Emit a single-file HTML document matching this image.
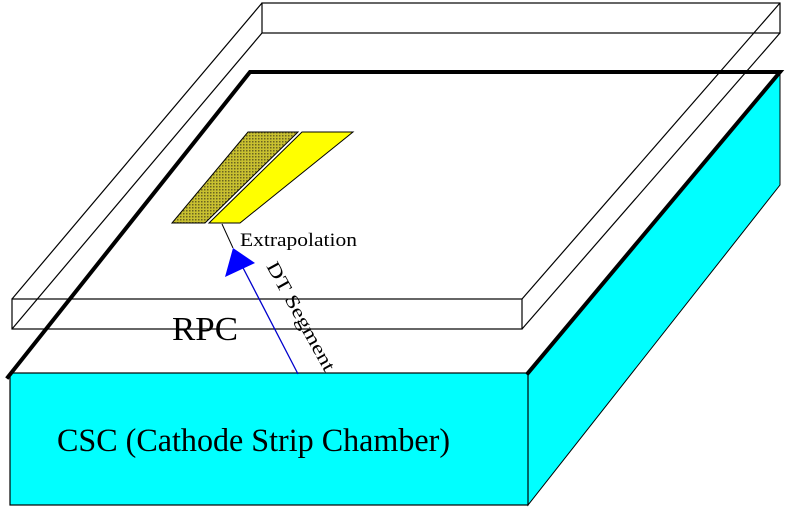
<!DOCTYPE html>
<html><head><style>body{margin:0;background:#fff}svg{display:block}</style></head><body>
<svg width="786" height="507" viewBox="0 0 786 507" xmlns="http://www.w3.org/2000/svg" font-family="Liberation Serif, serif">
<defs><pattern id="p" width="3" height="3" patternUnits="userSpaceOnUse"><rect width="3" height="3" fill="#c8c030"/><rect width="1.5" height="1.5" fill="#6a6420"/></pattern></defs>
<g stroke="#000" stroke-width="1.2" fill="none">
<rect x="262" y="3" width="518" height="30"/>
<line x1="262" y1="3" x2="12" y2="299"/>
<line x1="262" y1="33" x2="12" y2="329"/>
<line x1="780" y1="3" x2="522" y2="299"/>
<line x1="780" y1="33" x2="522" y2="329"/>
<rect x="12" y="299" width="510" height="30"/>
</g>
<polygon points="528,373 780,72 780,185 528,505" fill="#00ffff" stroke="#000" stroke-width="1"/>
<rect x="10" y="373" width="518" height="132" fill="#00ffff" stroke="#000" stroke-width="1.2"/>
<g stroke="#000" stroke-width="4" fill="none" stroke-linecap="square">
<polyline points="8,377 250,72 780,72 528,373"/>
</g>
<polygon points="248,132 298,132 205,223 172,223" fill="url(#p)" stroke="#000" stroke-width="1"/>
<polygon points="302,132 353,132 240,223 209,223" fill="#ffff00" stroke="#000" stroke-width="1"/>
<line x1="222" y1="224" x2="233" y2="248" stroke="#000" stroke-width="1"/>
<line x1="298" y1="374" x2="240" y2="262" stroke="#0000cc" stroke-width="1.3"/>
<polygon points="233,248 225,277 255,263" fill="#0000ff"/>
<text x="240" y="246" font-size="19" textLength="117" lengthAdjust="spacingAndGlyphs">Extrapolation</text>
<text x="172" y="340" font-size="34" textLength="66" lengthAdjust="spacingAndGlyphs">RPC</text>
<text x="57" y="451" font-size="33" textLength="393" lengthAdjust="spacingAndGlyphs">CSC (Cathode Strip Chamber)</text>
<text transform="translate(266,266) rotate(61)" font-size="19" textLength="122" lengthAdjust="spacingAndGlyphs">DT Segment</text>
</svg>
</body></html>
